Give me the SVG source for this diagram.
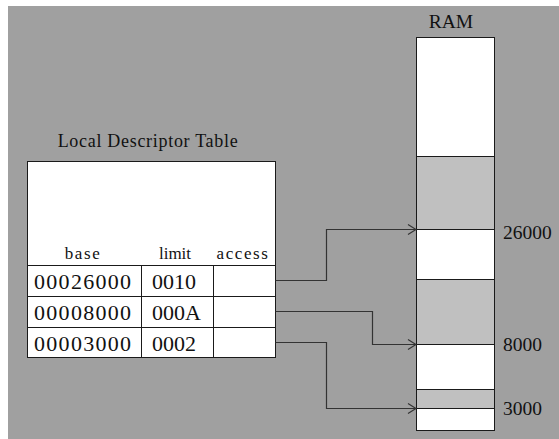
<svg xmlns="http://www.w3.org/2000/svg" width="559" height="439" viewBox="0 0 559 439">
  <style>
    .bg { fill: #a0a0a0; }
    .cell { fill: #ffffff; stroke: #1a1a1a; stroke-width: 1; }
    .seg { stroke: #1a1a1a; stroke-width: 1; }
    .used { fill: #c0c0c0; stroke: #1a1a1a; stroke-width: 1; }
    .free { fill: #ffffff; stroke: #1a1a1a; stroke-width: 1; }
    .wire { fill: none; stroke: #333333; stroke-width: 1.2; }
    text { font-family: "Liberation Serif", "Times New Roman", serif; fill: #111111; }
    .title { font-size: 18px; letter-spacing: 0.7px; }
    .hdr { font-size: 17px; }
    .val { font-size: 22px; }
    .wide { letter-spacing: 1.3px; }
    .addr { font-size: 19.5px; }
  </style>
  <defs>
    <marker id="chev" viewBox="0 0 10 12" refX="9" refY="6" markerWidth="10" markerHeight="12" markerUnits="userSpaceOnUse" orient="auto">
      <path d="M1,1 L9,6 L1,11" fill="none" stroke="#333333" stroke-width="1.2"/>
    </marker>
  </defs>

  <rect class="bg" x="8" y="6" width="551" height="433"/>

  <!-- descriptor table -->
  <g id="ldt">
    <text class="title" x="148" y="147" text-anchor="middle">Local Descriptor Table</text>
    <rect class="cell" x="27.5" y="161.5" width="248" height="196"/>
    <line class="seg" x1="27.5" y1="265.5" x2="275.5" y2="265.5"/>
    <line class="seg" x1="27.5" y1="296.5" x2="275.5" y2="296.5"/>
    <line class="seg" x1="27.5" y1="327.5" x2="275.5" y2="327.5"/>
    <line class="seg" x1="141.5" y1="265.5" x2="141.5" y2="357.5"/>
    <line class="seg" x1="213.5" y1="265.5" x2="213.5" y2="357.5"/>
    <text class="hdr" x="83" y="259" text-anchor="middle" letter-spacing="1.6">base</text>
    <text class="hdr" x="175" y="259" text-anchor="middle">limit</text>
    <text class="hdr" x="243" y="259" text-anchor="middle" letter-spacing="1.6">access</text>
    <text class="val wide" x="34" y="289">00026000</text>
    <text class="val" x="152" y="289">0010</text>
    <text class="val wide" x="34" y="320">00008000</text>
    <text class="val" x="152" y="320">000A</text>
    <text class="val wide" x="34" y="351">00003000</text>
    <text class="val" x="152" y="351">0002</text>
  </g>

  <!-- physical memory -->
  <g id="ram">
    <text class="addr" x="451" y="28" text-anchor="middle">RAM</text>
    <rect class="free" x="416.5" y="37.5" width="78" height="119"/>
    <rect class="used" x="416.5" y="156.5" width="78" height="73"/>
    <rect class="free" x="416.5" y="229.5" width="78" height="50"/>
    <rect class="used" x="416.5" y="279.5" width="78" height="65"/>
    <rect class="free" x="416.5" y="344.5" width="78" height="45"/>
    <rect class="used" x="416.5" y="389.5" width="78" height="19"/>
    <rect class="free" x="416.5" y="408.5" width="78" height="22"/>
    <text class="addr" x="503" y="239">26000</text>
    <text class="addr" x="503" y="351">8000</text>
    <text class="addr" x="503" y="415">3000</text>
  </g>

  <!-- descriptor base pointers -->
  <g id="connectors">
    <polyline class="wire" points="275.5,280.5 326.5,280.5 326.5,229.5 416,229.5" marker-end="url(#chev)"/>
    <polyline class="wire" points="275.5,311.5 372.5,311.5 372.5,344.5 416,344.5" marker-end="url(#chev)"/>
    <polyline class="wire" points="275.5,342.5 326.5,342.5 326.5,408.5 416,408.5" marker-end="url(#chev)"/>
  </g>
</svg>
